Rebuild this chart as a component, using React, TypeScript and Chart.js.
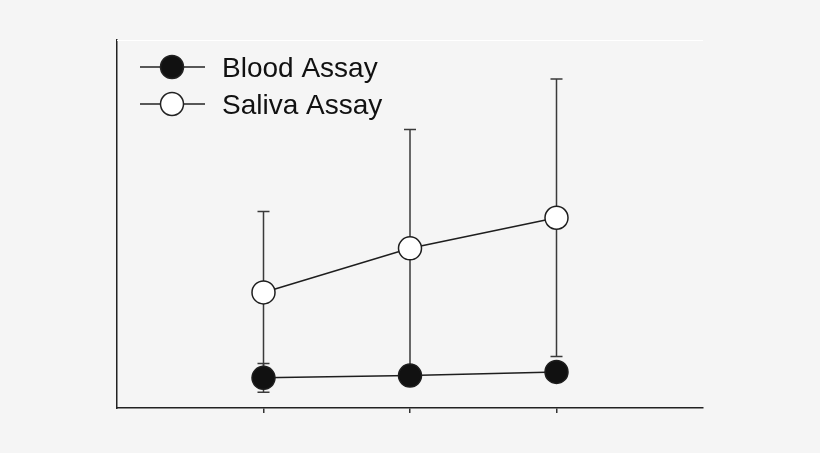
import { useEffect, useRef } from 'react';
import { Chart, registerables } from 'chart.js';

Chart.register(...registerables);

// Données (unités arbitraires, axe Y sans graduations)
const timePoints = [1, 2, 3];
const seriesLabels = ['Blood Assay', 'Saliva Assay'];
const bloodMeans = [8.2, 8.8, 9.8];
const bloodErrors = [3.9, 2.5, 2.5];
const salivaMeans = [31.4, 43.4, 51.7];
const salivaErrors = [22.0, 32.3, 37.7];

const errorSets = [bloodErrors, salivaErrors];

// Barres d'erreur dessinées sous les points
const errorBarPlugin = {
  id: 'errorBars',
  beforeDatasetsDraw(chart: any) {
    const { ctx, scales } = chart;
    const x = scales.x;
    const y = scales.y;
    ctx.save();
    ctx.strokeStyle = '#3a3a3a';
    ctx.lineWidth = 1.5;
    chart.data.datasets.forEach((ds: any, i: number) => {
      const errs = errorSets[i];
      ds.data.forEach((pt: any, j: number) => {
        const px = x.getPixelForValue(pt.x);
        const top = y.getPixelForValue(pt.y + errs[j]);
        const bot = y.getPixelForValue(pt.y - errs[j]);
        ctx.beginPath();
        ctx.moveTo(px, top);
        ctx.lineTo(px, bot);
        ctx.moveTo(px - 6, top);
        ctx.lineTo(px + 6, top);
        ctx.moveTo(px - 6, bot);
        ctx.lineTo(px + 6, bot);
        ctx.stroke();
      });
    });
    ctx.restore();
  },
};

// Légende dans la zone du graphique + liseré blanc en haut
const legendPlugin = {
  id: 'insideLegend',
  afterDraw(chart: any) {
    const { ctx, chartArea } = chart;
    ctx.save();
    ctx.strokeStyle = '#ffffff';
    ctx.lineWidth = 1;
    ctx.beginPath();
    ctx.moveTo(chartArea.left, chartArea.top + 0.5);
    ctx.lineTo(chartArea.right, chartArea.top + 0.5);
    ctx.stroke();

    chart.data.datasets.forEach((ds: any, i: number) => {
      const cy = chartArea.top + 27 + i * 37;
      const x0 = chartArea.left + 23;
      ctx.strokeStyle = '#222';
      ctx.lineWidth = 1.5;
      ctx.beginPath();
      ctx.moveTo(x0, cy);
      ctx.lineTo(x0 + 65, cy);
      ctx.stroke();
      ctx.beginPath();
      ctx.arc(x0 + 32, cy, 11.5, 0, Math.PI * 2);
      ctx.fillStyle = ds.pointBackgroundColor;
      ctx.fill();
      ctx.stroke();
      ctx.fillStyle = '#111';
      ctx.font = '28px "Liberation Sans", Arial, sans-serif';
      ctx.textBaseline = 'alphabetic';
      ctx.fillText(ds.label, x0 + 82, cy + 9.5);
    });
    ctx.restore();
  },
};

const AssayChart = () => {
  const chartRef = useRef<HTMLCanvasElement>(null);
  const chartInstance = useRef<Chart | null>(null);

  useEffect(() => {
    if (chartInstance.current) {
      chartInstance.current.destroy();
    }
    if (chartRef.current) {
      const ctx = chartRef.current.getContext('2d');
      if (ctx) {
        chartInstance.current = new Chart(ctx, {
          type: 'line',
          data: {
            datasets: [
              {
                label: seriesLabels[0],
                data: timePoints.map((t, i) => ({ x: t, y: bloodMeans[i] })),
                borderColor: '#1e1e1e',
                borderWidth: 1.5,
                pointRadius: 11.5,
                pointBorderWidth: 1.5,
                pointBorderColor: '#1e1e1e',
                pointBackgroundColor: '#111111',
                fill: false,
                tension: 0,
              },
              {
                label: seriesLabels[1],
                data: timePoints.map((t, i) => ({ x: t, y: salivaMeans[i] })),
                borderColor: '#1e1e1e',
                borderWidth: 1.5,
                pointRadius: 11.5,
                pointBorderWidth: 1.5,
                pointBorderColor: '#1e1e1e',
                pointBackgroundColor: '#ffffff',
                fill: false,
                tension: 0,
              },
            ],
          },
          options: {
            responsive: true,
            maintainAspectRatio: false,
            animation: false,
            layout: { padding: { top: 40, right: 117, bottom: 0, left: 0 } },
            plugins: {
              legend: { display: false },
              tooltip: { enabled: false },
            },
            scales: {
              x: {
                type: 'linear',
                min: 0,
                max: 4,
                afterBuildTicks: (scale: any) => {
                  scale.ticks = timePoints.map((v) => ({ value: v }));
                },
                afterFit: (scale: any) => {
                  scale.height = 45;
                },
                ticks: { display: false },
                grid: {
                  drawOnChartArea: false,
                  drawTicks: true,
                  tickLength: 5,
                  color: '#333',
                  lineWidth: 1.5,
                },
                border: { display: true, color: '#222', width: 1.5 },
              },
              y: {
                type: 'linear',
                min: 0,
                max: 100,
                afterFit: (scale: any) => {
                  scale.width = 117;
                },
                ticks: { display: false },
                grid: { display: false },
                border: { display: true, color: '#222', width: 1.5 },
              },
            },
          },
          plugins: [errorBarPlugin, legendPlugin],
        } as any);
      }
    }
    return () => {
      if (chartInstance.current) {
        chartInstance.current.destroy();
        chartInstance.current = null;
      }
    };
  }, []);

  return (
    <div
      style={{
        position: 'fixed',
        left: 0,
        top: 0,
        width: 820,
        height: 453,
        background: '#f5f5f5',
      }}
    >
      <canvas ref={chartRef}></canvas>
    </div>
  );
};

export default function App() {
  return <AssayChart />;
}
